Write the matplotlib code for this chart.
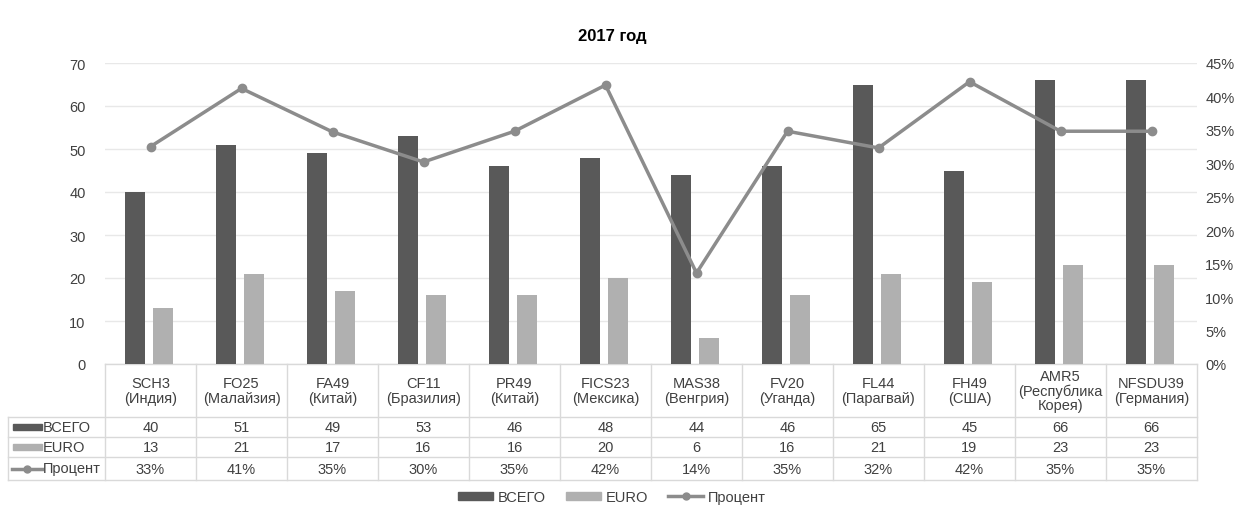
import matplotlib
matplotlib.use("Agg")
import matplotlib.pyplot as plt
from matplotlib.lines import Line2D
from matplotlib.patches import Patch
import matplotlib.transforms as mtransforms
import numpy as np

categories = ["SCH3\n(Индия)", "FO25\n(Малайзия)", "FA49\n(Китай)", "CF11\n(Бразилия)",
              "PR49\n(Китай)", "FICS23\n(Мексика)", "MAS38\n(Венгрия)", "FV20\n(Уганда)",
              "FL44\n(Парагвай)", "FH49\n(США)", "AMR5\n(Республика\nКорея)", "NFSDU39\n(Германия)"]
vsego = [40, 51, 49, 53, 46, 48, 44, 46, 65, 45, 66, 66]
euro = [13, 21, 17, 16, 16, 20, 6, 16, 21, 19, 23, 23]
percent = [0.325, 0.412, 0.347, 0.302, 0.348, 0.417, 0.136, 0.348, 0.323, 0.422, 0.348, 0.348]
percent_labels = ["33%", "41%", "35%", "30%", "35%", "42%", "14%", "35%", "32%", "42%", "35%", "35%"]
series_names = ["ВСЕГО", "EURO", "Процент"]

plt.rcParams['font.family'] = ['Liberation Sans', 'DejaVu Sans']
TXT = "#404040"
GRID = "#d9d9d9"
C_DARK = "#595959"
C_LIGHT = "#b0b0b0"
C_LINE = "#8c8c8c"
FS = 10.5

W, H = 1245, 506
fig = plt.figure(figsize=(W / 100, H / 100), dpi=100)
L, R, T, B = 105, 1197, 64, 365
ax = fig.add_axes([L / W, 1 - B / H, (R - L) / W, (B - T) / H])
ax2 = ax.twinx()

n = len(categories)
x = np.arange(n)
bw = 0.22
ax.bar(x - 0.165, vsego, bw, color=C_DARK, zorder=3)
ax.bar(x + 0.135, euro, bw, color=C_LIGHT, zorder=3)
ax.set_xlim(-0.5, n - 0.5)
ax.set_ylim(0, 70)
ax.set_yticks(range(0, 71, 10))
ax.yaxis.grid(True, color="#e8e8e8", lw=1)
ax.set_axisbelow(True)
ax.set_xticks([])
for s in ax.spines.values():
    s.set_visible(False)
for s in ax2.spines.values():
    s.set_visible(False)
ax.tick_params(axis='y', length=0, labelsize=FS, labelcolor=TXT, pad=14)

ax2.plot(x, percent, color=C_LINE, lw=2.5, marker='o', ms=6, zorder=4)
ax2.set_ylim(0, 0.45)
ax2.set_yticks(np.arange(0, 0.451, 0.05))
ax2.set_yticklabels([f"{int(round(v*100))}%" for v in np.arange(0, 0.451, 0.05)])
ax2.tick_params(axis='y', length=0, labelsize=FS, labelcolor=TXT, pad=6)

fig.text(612 / W, 1 - 37 / H, "2017 год", fontsize=12, fontweight='bold', color="#000000",
         ha='center', va='center')

# data table
def ay(ypix):
    return (B - ypix) / (B - T)

rows_y = [365, 418, 438, 458, 481]
xl = -0.5 - (L - 8) / ((R - L) / n)  # legend column left in data coords
tr = mtransforms.blended_transform_factory(ax.transData, ax.transAxes)
kw = dict(color=GRID, lw=1, clip_on=False, transform=tr)
ax.plot([-0.5, n - 0.5], [ay(365)] * 2, **kw)
for yy in rows_y[1:]:
    ax.plot([xl, n - 0.5], [ay(yy)] * 2, **kw)
for i in range(n + 1):
    ax.plot([i - 0.5, i - 0.5], [ay(365), ay(481)], **kw)
ax.plot([xl, xl], [ay(418), ay(481)], **kw)

for i, c in enumerate(categories):
    ax.text(i, ay(391.5), c, transform=tr, ha='center', va='center', fontsize=FS,
            color=TXT, linespacing=1.05, clip_on=False)
    ax.text(i, ay(428), str(vsego[i]), transform=tr, ha='center', va='center', fontsize=FS, color=TXT)
    ax.text(i, ay(448), str(euro[i]), transform=tr, ha='center', va='center', fontsize=FS, color=TXT)
    ax.text(i, ay(469.5), percent_labels[i], transform=tr, ha='center', va='center', fontsize=FS, color=TXT)

def fx(px):
    return px / W
def fy(py):
    return 1 - py / H
fig.patches.append(plt.Rectangle((fx(13), fy(431)), 29 / W, 6 / H, color=C_DARK, transform=fig.transFigure))
fig.patches.append(plt.Rectangle((fx(13), fy(451)), 29 / W, 6 / H, color=C_LIGHT, transform=fig.transFigure))
fig.lines.append(Line2D([fx(12), fx(42)], [fy(469.5)] * 2, color=C_LINE, lw=2.5, transform=fig.transFigure))
fig.lines.append(Line2D([fx(27)], [fy(469.5)], color=C_LINE, marker='o', ms=5, transform=fig.transFigure))
for name, yy in zip(series_names, [428, 448, 469.5]):
    fig.text(fx(43), fy(yy), name, ha='left', va='center', fontsize=FS, color=TXT)

handles = [Patch(color=C_DARK), Patch(color=C_LIGHT),
           Line2D([0], [0], color=C_LINE, lw=2.5, marker='o', ms=5)]
fig.legend(handles, series_names, loc='center', bbox_to_anchor=(612 / W, fy(498)), ncol=3,
           frameon=False, fontsize=FS, labelcolor=TXT, handlelength=2.4, handleheight=0.5,
           columnspacing=1.4, handletextpad=0.3)

fig.savefig("out.png", dpi=100, facecolor='white')
